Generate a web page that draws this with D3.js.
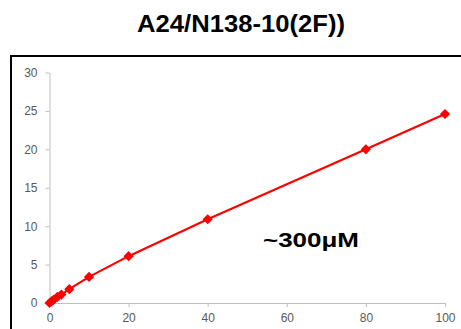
<!DOCTYPE html>
<html lang="en">
<head>
<meta charset="UTF-8">
<title>A24/N138-10(2F))</title>
<script src="https://d3js.org/d3.v7.min.js"></script>
<style>
  body { margin: 0; background: #fff; }
  svg { display: block; }
  .tick text { font-family: "Liberation Sans", Arial, sans-serif; font-size: 12px; fill: #595959; }
  .tick line, .domain { stroke: #bfbfbf; }
</style>
</head>
<body>
<svg width="461" height="329"></svg>
<script>
  const concentration = [0, 0.5, 1, 2, 3, 5, 10, 20, 40, 80, 100];
  const signal = [0, 0.2, 0.4, 0.8, 1.1, 1.8, 3.4, 6.1, 10.9, 20.0, 24.6];
  const xTicks = [0, 20, 40, 60, 80, 100];
  const yTicks = [0, 5, 10, 15, 20, 25, 30];

  const data = concentration.map((c, i) => ({ x: c, y: signal[i] }));

  const svg = d3.select("svg");

  // frame around plot
  svg.append("rect")
    .attr("x", 11).attr("y", 56)
    .attr("width", 470).attr("height", 300)
    .attr("fill", "none")
    .attr("stroke", "#000")
    .attr("stroke-width", 2);

  svg.append("text")
    .attr("x", 241).attr("y", 32)
    .attr("text-anchor", "middle")
    .attr("font-family", "Liberation Sans, Arial, sans-serif")
    .attr("font-weight", "bold")
    .attr("font-size", 23)
    .attr("textLength", 208)
    .attr("lengthAdjust", "spacingAndGlyphs")
    .text("A24/N138-10(2F))");

  const x = d3.scaleLinear().domain([0, 100]).range([49.5, 445]);
  const y = d3.scaleLinear().domain([0, 30]).range([303, 72.5]);

  svg.append("g")
    .attr("transform", "translate(0,303)")
    .call(d3.axisBottom(x).tickValues(xTicks).tickSize(4).tickSizeOuter(0).tickPadding(6))
    .call(g => g.selectAll(".tick text").attr("dy", "0.71em"));

  svg.append("g")
    .attr("transform", "translate(49.5,0)")
    .call(d3.axisLeft(y).tickValues(yTicks).tickSize(4).tickSizeOuter(0).tickPadding(8));

  const line = d3.line().x(d => x(d.x)).y(d => y(d.y));

  svg.append("path")
    .datum(data)
    .attr("fill", "none")
    .attr("stroke", "#ff0000")
    .attr("stroke-width", 2.2)
    .attr("d", line);

  // square diamonds, as Excel draws them
  svg.append("g")
    .selectAll("path")
    .data(data)
    .enter().append("path")
    .attr("transform", d => `translate(${x(d.x)},${y(d.y)}) rotate(45)`)
    .attr("d", d3.symbol().type(d3.symbolSquare).size(52))
    .attr("fill", "#ff0000");

  svg.append("text")
    .attr("x", 311).attr("y", 247)
    .attr("text-anchor", "middle")
    .attr("font-family", "Liberation Sans, Arial, sans-serif")
    .attr("font-weight", "bold")
    .attr("font-size", 21)
    .attr("textLength", 96)
    .attr("lengthAdjust", "spacingAndGlyphs")
    .text("~300μM");
</script>
</body>
</html>
